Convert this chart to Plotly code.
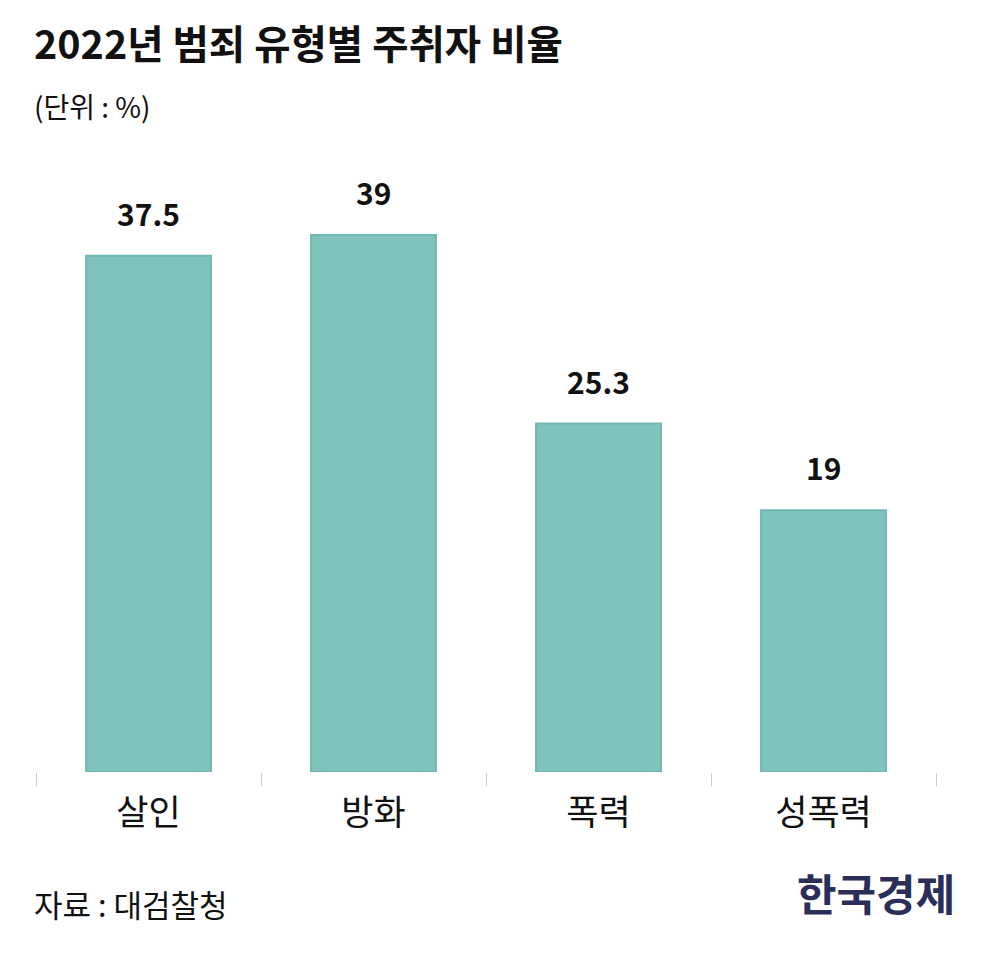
import plotly.graph_objects as go

categories = ["살인", "방화", "폭력", "성폭력"]
values = [37.5, 39, 25.3, 19]
value_labels = ["37.5", "39", "25.3", "19"]

title_text = "2022년 범죄 유형별 주취자 비율"
unit_text = "(단위 : %)"
source_text = "자료 : 대검찰청"
logo_text = "한국경제"

W, H = 998, 958
L, R, T, B = 36, 62, 150, 186
plot_h = H - T - B
FONT = "Noto Sans CJK KR"

def py(pix):
    # convert pixel y (from top) to paper y
    return (H - B - pix) / plot_h

def px(pix):
    return (pix - L) / (W - L - R)

fig = go.Figure()
fig.add_trace(go.Bar(
    x=categories, y=values, width=0.555,
    marker=dict(color="#80C3BD", line=dict(color="#6DB9B1", width=2)),
    hoverinfo="skip",
))

for c, v, t in zip(categories, values, value_labels):
    fig.add_annotation(x=c, y=v, text=t, showarrow=False, yanchor="bottom",
                       yshift=19, font=dict(family=FONT, size=30, color="#111111", weight="bold"))

fig.add_annotation(xref="paper", yref="paper", x=px(32), y=py(41), text=title_text,
                   showarrow=False, xanchor="left", yanchor="middle",
                   font=dict(family=FONT, size=39.5, color="#111111", weight="bold"))
fig.add_annotation(xref="paper", yref="paper", x=px(32), y=py(106), text=unit_text,
                   showarrow=False, xanchor="left", yanchor="middle",
                   font=dict(family=FONT, size=28, color="#111111"))
fig.add_annotation(xref="paper", yref="paper", x=px(32), y=py(903), text=source_text,
                   showarrow=False, xanchor="left", yanchor="middle",
                   font=dict(family=FONT, size=31, color="#111111"))
fig.add_annotation(xref="paper", yref="paper", x=px(957), y=py(892), text=logo_text,
                   showarrow=False, xanchor="right", yanchor="middle",
                   font=dict(family=FONT, size=43, color="#2B2E58", weight="bold"))

fig.update_layout(
    width=W, height=H, margin=dict(l=L, r=R, t=T, b=B),
    paper_bgcolor="white", plot_bgcolor="white", showlegend=False,
    bargap=0.445,
    xaxis=dict(type="category", tickson="boundaries", ticks="outside", ticklen=13,
               tickcolor="#cccccc", tickwidth=1, showline=False, showgrid=False,
               zeroline=False, ticklabelstandoff=17,
               tickfont=dict(family=FONT, size=35, color="#111111")),
    yaxis=dict(range=[0, plot_h / 13.77], visible=False, showgrid=False, zeroline=False),
)

fig.write_html("out.html")
